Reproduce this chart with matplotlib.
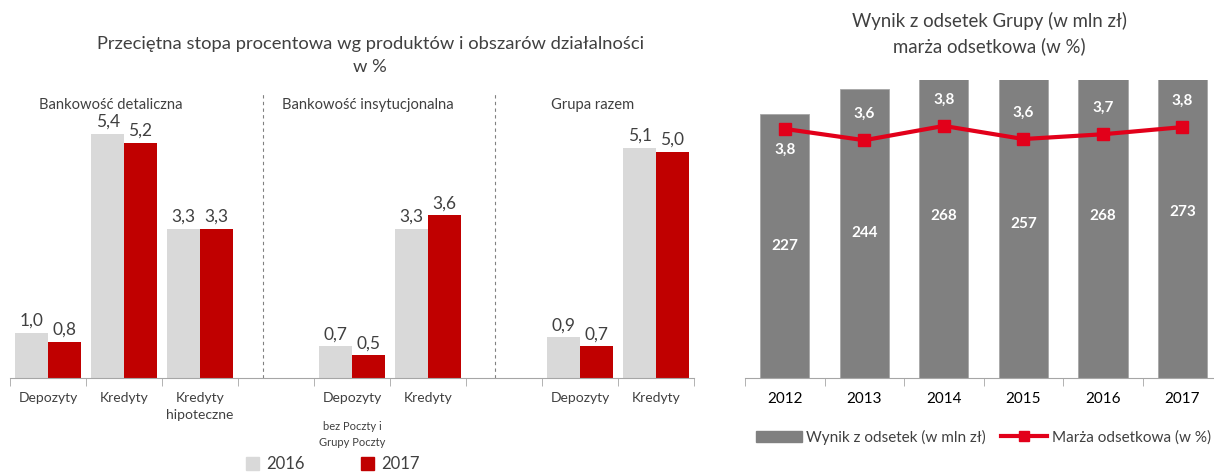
import numpy as np
import matplotlib
matplotlib.use("Agg")
import matplotlib.pyplot as plt
from matplotlib.patches import Patch
from matplotlib.lines import Line2D

plt.rcParams['font.family'] = ['Lato', 'DejaVu Sans']

# Left chart: average interest rate by product and business area (in %)
categories = ["Depozyty", "Kredyty", "Kredyty\nhipoteczne", "",
              "Depozyty", "Kredyty", "", "Depozyty", "Kredyty"]
rate_2016 = [1.0, 5.4, 3.3, None, 0.7, 3.3, None, 0.9, 5.1]
rate_2017 = [0.8, 5.2, 3.3, None, 0.5, 3.6, None, 0.7, 5.0]
sections = ["Bankowość detaliczna", "Bankowość insytucjonalna", "Grupa razem"]

# Right chart: net interest income and margin
years = ["2012", "2013", "2014", "2015", "2016", "2017"]
nii = [227, 244, 268, 257, 268, 273]
nim = [3.78, 3.59, 3.83, 3.61, 3.69, 3.81]
nim_labels = ["3,8", "3,6", "3,8", "3,6", "3,7", "3,8"]

GRAY_TXT = "#404040"
AXIS_COL = "#A6A6A6"
LIGHT = "#D9D9D9"
DARK_RED = "#C00000"
BAR_GRAY = "#808080"
LINE_RED = "#E2001A"

fig = plt.figure(figsize=(12.14, 4.73), dpi=100)

def fmt(v):
    return f"{v:.1f}".replace(".", ",")

# ---------------- left panel ----------------
ax = fig.add_axes([0.0082, 0.2008, 0.5635, 0.621])
x = np.arange(len(categories))
w = 0.43
for xi, a, b in zip(x, rate_2016, rate_2017):
    if a is None:
        continue
    ax.bar(xi - w / 2, a, w, color=LIGHT)
    ax.bar(xi + w / 2, b, w, color=DARK_RED)
    ax.annotate(fmt(a), (xi - w / 2, a), xytext=(0, 3), textcoords="offset points",
                ha="center", va="bottom", fontsize=12.5, color=GRAY_TXT)
    ax.annotate(fmt(b), (xi + w / 2, b), xytext=(0, 3), textcoords="offset points",
                ha="center", va="bottom", fontsize=12.5, color=GRAY_TXT)

ax.set_xlim(-0.5, len(categories) - 0.5)
ax.set_ylim(0, 6.5)
ax.set_yticks([])
for s in ["top", "left", "right"]:
    ax.spines[s].set_visible(False)
ax.spines["bottom"].set_color(AXIS_COL)
ax.set_xticks(x)
ax.set_xticklabels(categories, fontsize=10, color=GRAY_TXT, linespacing=1.5)
ax.tick_params(axis="x", which="major", length=0, pad=10)
ax.set_xticks(np.arange(len(categories) + 1) - 0.5, minor=True)
ax.tick_params(axis="x", which="minor", length=6, color=AXIS_COL, direction="out")

# dashed separators between business areas
for xs in [2.83, 5.88]:
    ax.plot([xs, xs], [0, 6.3], ls=(0, (3, 3)), color="#808080", lw=0.8, clip_on=False)

sec_x = [0.82, 4.21, 7.17]
for sx, name in zip(sec_x, sections):
    ax.text(sx, 6.05, name, ha="center", va="center", fontsize=10.6, color=GRAY_TXT)

ax.text(4.0, -0.95, "bez Poczty i\nGrupy Poczty", ha="center", va="top",
        fontsize=8, color=GRAY_TXT, linespacing=1.6)

fig.text(0.305, 0.906, "Przeciętna stopa procentowa wg produktów i obszarów działalności",
         ha="center", va="center", fontsize=13.2, color=GRAY_TXT)
fig.text(0.305, 0.858, "w %", ha="center", va="center", fontsize=13.2, color=GRAY_TXT)

handles = [Patch(color=LIGHT), Patch(color=DARK_RED)]
fig.legend(handles, ["2016", "2017"], loc="center", bbox_to_anchor=(0.274, 0.018),
           ncol=2, frameon=False, fontsize=12, handlelength=0.8, handleheight=0.8,
           handletextpad=0.4, columnspacing=3.4, labelcolor=GRAY_TXT)

# ---------------- right panel ----------------
axr = fig.add_axes([0.6137, 0.2008, 0.393, 0.630])
xr = np.arange(len(years))
axr.bar(xr, nii, 0.62, color=BAR_GRAY, edgecolor="#A6A6A6", linewidth=0.6)
axr.set_ylim(50, 250)
axr.set_xlim(-0.5, len(years) - 0.5)
for xi, v in zip(xr, nii):
    axr.text(xi, (50 + v) / 2, str(v), ha="center", va="center", fontsize=11,
             color="white", fontweight="bold", clip_on=False)
axr.set_yticks([])
for s in ["top", "left", "right"]:
    axr.spines[s].set_visible(False)
axr.spines["bottom"].set_color(AXIS_COL)
axr.set_xticks(xr)
axr.set_xticklabels(years, fontsize=11, color="black")
axr.tick_params(axis="x", which="major", length=0, pad=10)
axr.set_xticks(np.arange(len(years) + 1) - 0.5, minor=True)
axr.tick_params(axis="x", which="minor", length=6, color=AXIS_COL, direction="out")

ax2 = axr.twinx()
ax2.plot(xr, nim, color=LINE_RED, lw=3, marker="s", markersize=8.5)
ax2.set_ylim(-0.4, 4.6)
ax2.set_yticks([])
for s in ax2.spines.values():
    s.set_visible(False)
for i, (xi, v, lab) in enumerate(zip(xr, nim, nim_labels)):
    dy = -15 if i == 0 else 19
    ax2.annotate(lab, (xi, v), xytext=(0, dy), textcoords="offset points",
                 ha="center", va="center", fontsize=11, color="white", fontweight="bold")

fig.text(0.815, 0.956, "Wynik z odsetek Grupy (w mln zł)", ha="center", va="center",
         fontsize=13.4, color=GRAY_TXT)
fig.text(0.815, 0.903, "marża odsetkowa (w %)", ha="center", va="center",
         fontsize=13.4, color=GRAY_TXT)

rh = [Patch(color=BAR_GRAY),
      Line2D([0], [0], color=LINE_RED, lw=3, marker="s", markersize=7)]
fig.legend(rh, ["Wynik z odsetek (w mln zł)", "Marża odsetkowa (w %)"], loc="center",
           bbox_to_anchor=(0.81, 0.076), ncol=2, frameon=False, fontsize=11,
           handlelength=3, handleheight=0.7, handletextpad=0.3, columnspacing=1.0,
           labelcolor=GRAY_TXT)

fig.savefig("out.png", dpi=100)
